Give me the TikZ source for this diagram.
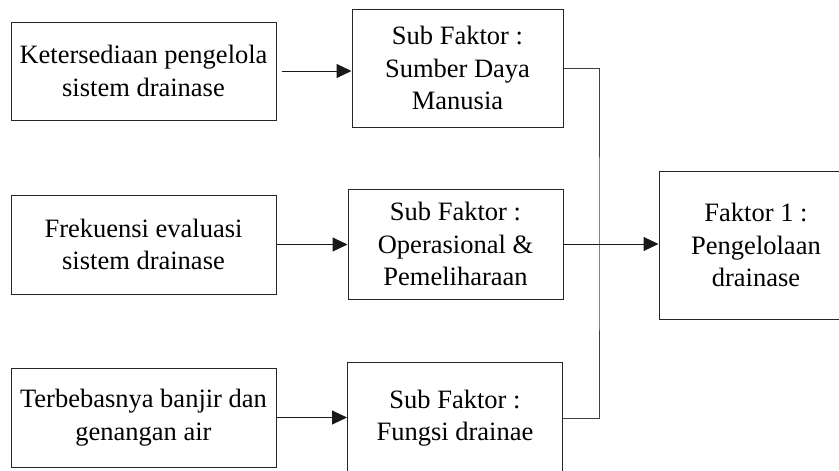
\documentclass[tikz,border=0pt]{standalone}
\usepackage{fontspec}
\setmainfont{Liberation Serif}
\usetikzlibrary{arrows.meta,positioning,calc}
\tikzset{
    box/.style={draw=black!85, line width=1pt, align=center, inner sep=2pt,
                font=\fontsize{26.5}{32.5}\selectfont},
    indicator/.style={box, minimum width=265pt, minimum height=99pt},
    subfactor/.style={box, minimum width=215pt, minimum height=112pt},
    factor/.style={box, minimum width=194pt, minimum height=148pt},
    link/.style={draw=black!75, line width=1pt},
    flow/.style={link, draw=black!90, -{Triangle[length=15pt,width=14pt]}},
}
\begin{document}
\begin{tikzpicture}[x=1pt, y=-1pt]
    \useasboundingbox (0,0) rectangle (839,471);
    \clip (0,0) rectangle (839,471);

    % Indicators
    \node[indicator, minimum height=98pt] (ind1) at (143.5,71) {Ketersediaan pengelola\\sistem drainase};
    \node[indicator] (ind2) at (143.5,244.5) {Frekuensi evaluasi\\sistem drainase};
    \node[indicator] (ind3) at (143.5,417.5) {Terbebasnya banjir dan\\genangan air};

    % Sub factors
    \node[subfactor, minimum width=211pt, minimum height=118pt] (sub1) at (457.5,68) {Sub Faktor :\\Sumber Daya\\Manusia};
    \node[subfactor, minimum height=110pt] (sub2) at (455.5,244) {Sub Faktor :\\Operasional \&\\Pemeliharaan};
    \node[subfactor] (sub3) at (455,418) {Sub Faktor :\\Fungsi drainae};

    % Factor
    \node[factor] (fac) at (756,245) {Faktor 1 :\\Pengelolaan\\drainase};

    % Indicators to sub factors
    \draw[flow, shorten <=5pt] (ind1.east) -- (ind1.east -| sub1.west);
    \draw[flow] (ind2.east) -- (ind2.east -| sub2.west);
    \draw[flow] (ind3.east) -- (ind3.east -| sub3.west);

    % Sub factors to factor
    \coordinate (bus) at (599,244);
    \draw[link] (sub1.east) -| (bus) |- (sub3.east);
    \draw[flow] (sub2.east) -- (sub2.east -| fac.west);
\end{tikzpicture}
\end{document}
